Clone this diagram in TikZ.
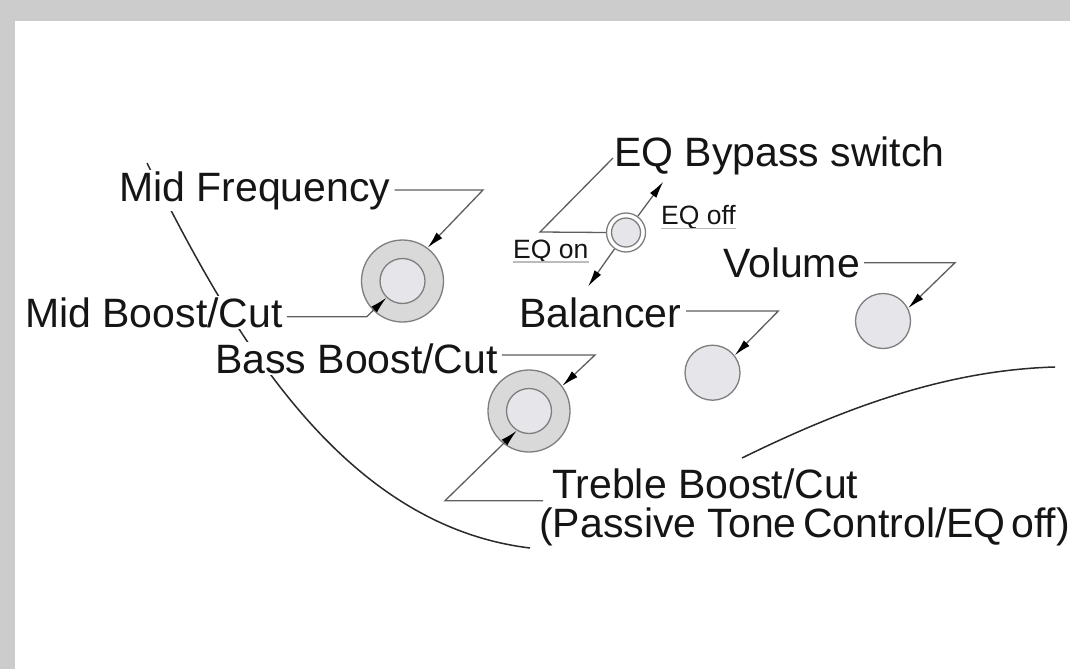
\documentclass[tikz,border=0pt]{standalone}
\usepackage{fontspec}
\setmainfont{Liberation Sans}
\usetikzlibrary{arrows.meta}
\definecolor{bggray}{HTML}{CCCCCC}
\definecolor{ink}{HTML}{151515}
\definecolor{leadc}{HTML}{5E5E5E}
\definecolor{ringc}{HTML}{D9D9D9}
\definecolor{corec}{HTML}{E6E6EA}
\definecolor{knobline}{HTML}{7E7E7E}
\definecolor{ulc}{HTML}{BBBBBB}
\definecolor{bodyc}{HTML}{2A2A2A}
\begin{document}
\begin{tikzpicture}[x=1pt,y=-1pt,
  lbl/.style={anchor=base west, inner xsep=0pt, inner ysep=1.5pt, fill=white, text=ink, font=\fontsize{41}{49}\selectfont},
  smalllbl/.style={anchor=base west, inner sep=0pt, text=ink, font=\fontsize{26.5}{32}\selectfont},
  lead/.style={draw=leadc, line width=1.3pt},
  arr/.style={lead, -{Latex[length=17pt,width=8pt,color=black]}},
  ring/.style={circle, draw=knobline, line width=1.3pt, fill=ringc, inner sep=0pt},
  core/.style={circle, draw=knobline, line width=1.3pt, fill=corec, inner sep=0pt},
  swring/.style={circle, draw=knobline, line width=1.3pt, fill=white, inner sep=0pt},
  uline/.style={draw=ulc, line width=1.4pt},
  body/.style={draw=bodyc, line width=1.5pt}]
\useasboundingbox (0,0) rectangle (1070,669);
\fill[bggray] (0,0) rectangle (1070,669);
\fill[white] (15,21) rectangle (1070,669);

% body outline
\draw[body] (147,163) .. controls (230,330) and (340,525) .. (530,548);
\draw[body] (742,458) .. controls (850,405) and (950,370) .. (1055,367);

% knobs
\node[ring, minimum size=82pt] (midout) at (402.5,281) {};
\node[core, minimum size=45pt] (midin) at (402.5,281) {};
\node[ring, minimum size=82pt] (bassout) at (529,411) {};
\node[core, minimum size=45pt] (bassin) at (529,411) {};
\node[swring, minimum size=39pt] (swout) at (626,232.5) {};
\node[core, minimum size=29pt] (swin) at (626,232.5) {};
\node[core, minimum size=55pt] (bal) at (712.5,372.7) {};
\node[core, minimum size=55pt] (vol) at (883,321) {};

% labels
\node[lbl] (midfreq) at (119,201) {Mid Frequency};
\node[lbl] (midbc) at (25,327) {Mid Boost/Cut};
\node[lbl] (bassbc) at (215,373) {Bass Boost/Cut};
\node[lbl] (eqbyp) at (614,166) {EQ Bypass switch};
\node[lbl] (volt) at (723,277) {Volume};
\node[lbl] (balt) at (519,327) {Balancer};
\node[lbl] (treb) at (552,498) {Treble Boost/Cut};
\node[lbl] (passive) at (539,537) {(Passive Tone\hspace{-5pt} Control/EQ\hspace{-6pt} off)};
\node[smalllbl] (eqon) at (513,258) {EQ on};
\node[smalllbl] (eqoff) at (661,224) {EQ off};

% underlines
\draw[uline] ([yshift=-4pt]eqon.base west) -- ([yshift=-4pt]eqon.base east);
\draw[uline] ([yshift=-4.5pt]eqoff.base west) -- ([yshift=-4.5pt]eqoff.base east);

% knee coordinates
\coordinate (mfk) at (483,190);
\coordinate (mbk) at (366.7,316.7);
\coordinate (bbk) at (595,355);
\coordinate (tbk) at (445,500.7);
\coordinate (vk) at (955,262.7);
\coordinate (bk) at (778.3,311);
\coordinate (eqs) at (613,158);
\coordinate (eqk) at (540,232);
\coordinate (offtip) at (663.3,181.7);
\coordinate (ontip) at (588,286.5);

% leaders
\draw[arr, shorten <=4pt] (midfreq.east |- mfk) -- (mfk) -- (midout.53);
\draw[arr, shorten <=4pt] (midbc.east |- mbk) -- (mbk) -- (midin.226);
\draw[arr, shorten <=4pt] (bassbc.east |- bbk) -- (bbk) -- (bassout.37);
\draw[arr, shorten <=9pt] (treb.west |- tbk) -- (tbk) -- (bassin.238);
\draw[arr, shorten <=4pt] (volt.east |- vk) -- (vk) -- (vol.27);
\draw[arr, shorten <=5pt] (balt.east |- bk) -- (bk) -- (bal.38);
\draw[lead] (eqs) -- (eqk) -- (swout.180);
\draw[arr] (swout.54) -- (offtip);
\draw[arr] (swout.235) -- (ontip);
\end{tikzpicture}
\end{document}
